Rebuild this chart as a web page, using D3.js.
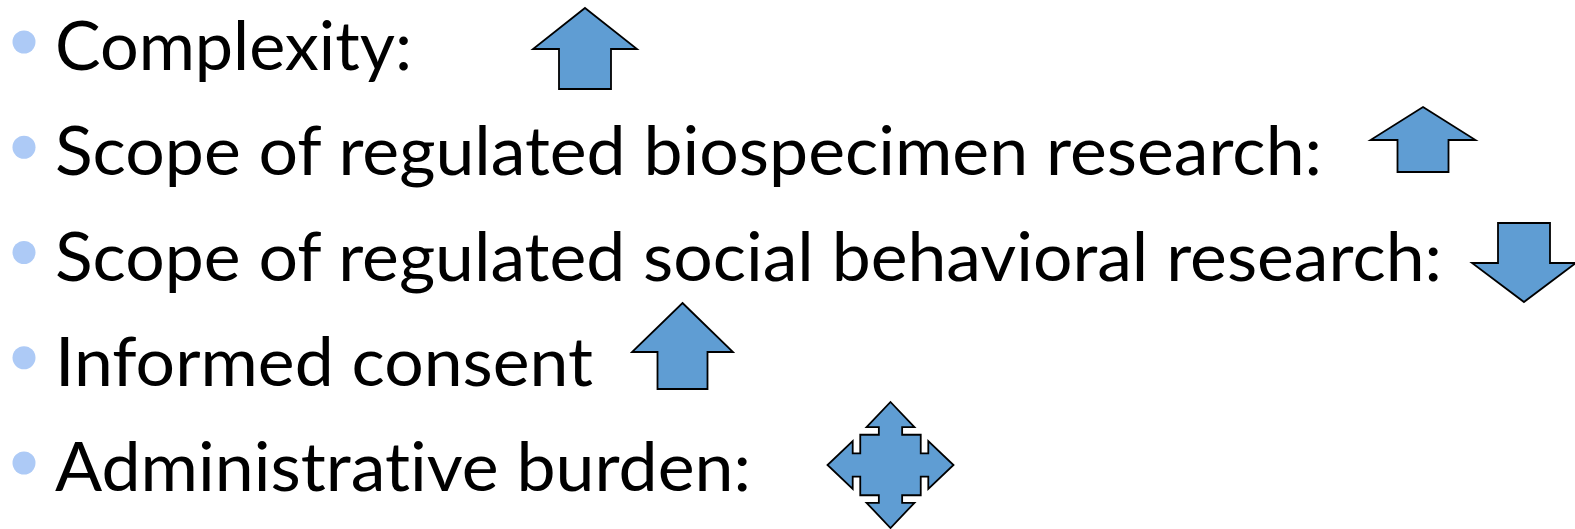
<!DOCTYPE html>
<html>
<head>
<meta charset="utf-8">
<script src="https://cdn.jsdelivr.net/npm/d3@7"></script>
<style>
  html, body { margin: 0; padding: 0; background: #ffffff; }
  svg { display: block; }
  text { font-variant-ligatures: none; font-feature-settings: "liga" 0, "dlig" 0; }
</style>
</head>
<body>
<script>
// ---- data ----
const labels = [
  "Complexity:",
  "Scope of regulated biospecimen research:",
  "Scope of regulated social behavioral research:",
  "Informed consent",
  "Administrative burden:"
];
const directions = ["up", "up", "down", "up", "both"];

// ---- layout ----
const W = 1575, H = 529;
const textRight = [412, 1322, 1442, 593, 751];
const arrowBoxes = [
  {cx: 585, top: 8, bottom: 89, w: 104, head: 41, shaft: 52},
  {cx: 1423, top: 107, bottom: 172, w: 105, head: 33, shaft: 51},
  {cx: 1524, top: 223, bottom: 302, w: 104, head: 39, shaft: 52},
  {cx: 682.5, top: 303, bottom: 389, w: 101, head: 49, shaft: 50},
  {cx: 890.5, top: 402, bottom: 528, w: 129}
];

const svg = d3.select("body").append("svg")
  .attr("width", W).attr("height", H);
svg.append("rect").attr("width", W).attr("height", H).attr("fill", "#ffffff");

const y = d3.scalePoint().domain(d3.range(labels.length)).range([70, 491]);

const rows = svg.selectAll("g.row").data(labels).join("g").attr("class", "row");

rows.append("circle")
  .attr("cx", 24)
  .attr("cy", (d, i) => y(i) - 28)
  .attr("r", 11.5)
  .attr("fill", "#adcaf6");

const textX = 55;
rows.append("text")
  .attr("x", textX)
  .attr("y", (d, i) => y(i))
  .attr("font-family", "Lato, 'Open Sans', sans-serif")
  .attr("font-size", 67)
  .attr("fill", "#000000")
  .attr("textLength", (d, i) => textRight[i] - textX)
  .attr("lengthAdjust", "spacingAndGlyphs")
  .text(d => d);

function arrowPath(dir, b) {
  const hw = b.w / 2, sw = (b.shaft || 0) / 2, cx = b.cx;
  if (dir === "up") {
    const sy = b.top + b.head;
    return `M${cx},${b.top} L${cx + hw},${sy} L${cx + sw},${sy} L${cx + sw},${b.bottom} L${cx - sw},${b.bottom} L${cx - sw},${sy} L${cx - hw},${sy} Z`;
  }
  if (dir === "down") {
    const sy = b.bottom - b.head;
    return `M${cx},${b.bottom} L${cx + hw},${sy} L${cx + sw},${sy} L${cx + sw},${b.top} L${cx - sw},${b.top} L${cx - sw},${sy} L${cx - hw},${sy} Z`;
  }
  // quad arrow
  const cy = (b.top + b.bottom) / 2;
  const T = (b.bottom - b.top) / 2;
  const hb = T * 0.6;
  const hh = T * 0.38;
  const s = T * 0.185;
  const bx = T * 0.48;
  const pts = [];
  const seg = [
    [0, -T], [hh, -hb], [s, -hb], [s, -bx], [bx, -bx], [bx, -s], [hb, -s], [hb, -hh]
  ];
  for (let k = 0; k < 4; k++) {
    const a = k * Math.PI / 2, c = Math.cos(a), sn = Math.sin(a);
    seg.forEach(([px, py]) => pts.push([cx + px * c - py * sn, cy + px * sn + py * c]));
  }
  return "M" + pts.map(p => p[0].toFixed(2) + "," + p[1].toFixed(2)).join(" L") + " Z";
}

rows.append("path")
  .attr("d", (d, i) => arrowPath(directions[i], arrowBoxes[i]))
  .attr("fill", "#5f9dd3")
  .attr("stroke", "#000000")
  .attr("stroke-width", 1.8)
  .attr("stroke-linejoin", "miter");
</script>
</body>
</html>
